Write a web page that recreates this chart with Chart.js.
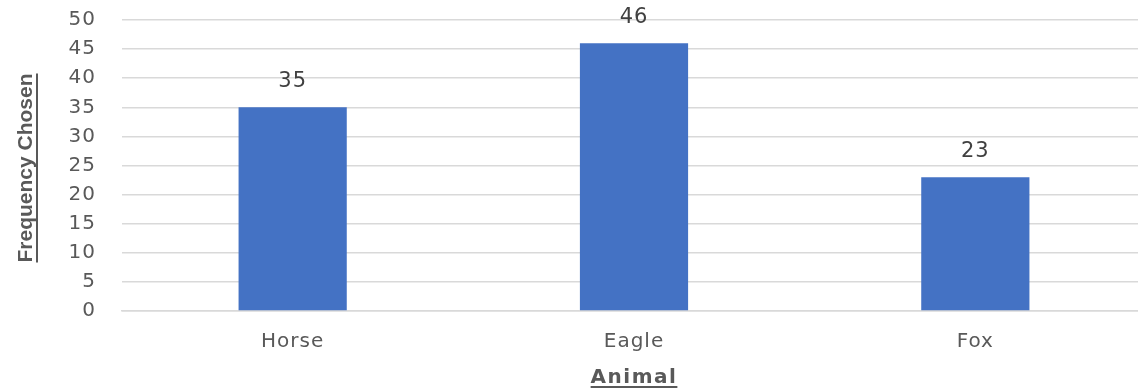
<!DOCTYPE html>
<html>
<head>
<meta charset="utf-8">
<script src="https://cdn.jsdelivr.net/npm/chart.js@4"></script>
<style>
  body { margin: 0; background: #fff; overflow: hidden; }
  #wrap { width: 1146px; height: 391px; }
</style>
</head>
<body>
<div id="wrap"><canvas id="animalChart"></canvas></div>
<script>
const animals = ['Horse', 'Eagle', 'Fox'];
const timesChosen = [35, 46, 23];
const yTicks = [0, 5, 10, 15, 20, 25, 30, 35, 40, 45, 50];

const textColor = '#595959';

// titles are underlined, so draw them by hand along with the value labels
const extras = {
    id: 'extras',
    beforeDraw(chart) {
        chart.ctx.letterSpacing = '1px';
    },
    afterDraw(chart) {
        const ctx = chart.ctx;
        const meta = chart.getDatasetMeta(0);

        ctx.save();
        ctx.fillStyle = '#404040';
        ctx.font = '21px "DejaVu Sans"';
        ctx.textAlign = 'center';
        ctx.textBaseline = 'middle';
        meta.data.forEach((bar, i) => {
            ctx.fillText(timesChosen[i], bar.x, bar.y - 26);
        });

        // x title
        ctx.fillStyle = textColor;
        ctx.strokeStyle = textColor;
        ctx.font = 'bold 20px "DejaVu Sans"';
        ctx.letterSpacing = '1.5px';
        ctx.textBaseline = 'alphabetic';
        const xt = 'Animal';
        const xw = ctx.measureText(xt).width;
        ctx.fillText(xt, 634, 383);
        ctx.lineWidth = 2;
        ctx.beginPath();
        ctx.moveTo(634 - xw / 2, 387);
        ctx.lineTo(634 + xw / 2, 387);
        ctx.stroke();

        // y title
        ctx.translate(32, 168);
        ctx.rotate(-Math.PI / 2);
        ctx.font = 'bold 21px "Liberation Sans"';
        ctx.letterSpacing = '0px';
        const yt = 'Frequency Chosen';
        const yw = ctx.measureText(yt).width;
        ctx.fillText(yt, 0, 0);
        ctx.beginPath();
        ctx.moveTo(-yw / 2, 5);
        ctx.lineTo(yw / 2, 5);
        ctx.stroke();
        ctx.restore();
    }
};

new Chart(document.getElementById('animalChart'), {
    type: 'bar',
    data: {
        labels: animals,
        datasets: [{
            label: 'Frequency Chosen',
            data: timesChosen,
            backgroundColor: '#4472c4',
            categoryPercentage: 1,
            barPercentage: 0.317
        }]
    },
    options: {
        responsive: true,
        maintainAspectRatio: false,
        animation: false,
        layout: { padding: { top: 20, right: 0, left: 0, bottom: 0 } },
        plugins: {
            legend: { display: false },
            tooltip: { enabled: false }
        },
        scales: {
            x: {
                grid: { display: false, drawTicks: false },
                border: { color: '#d9d9d9', width: 1.5 },
                ticks: {
                    color: textColor,
                    font: { family: 'DejaVu Sans', size: 20 },
                    padding: 19,
                    maxRotation: 0
                },
                afterFit(scale) {
                    scale.height = 80;
                    scale.paddingLeft = 0;
                    scale.paddingRight = 0;
                }
            },
            y: {
                min: 0,
                max: 50,
                afterBuildTicks(scale) {
                    scale.ticks = yTicks.map(v => ({ value: v }));
                },
                grid: { color: '#d9d9d9', lineWidth: 1.5, drawTicks: false },
                border: { display: false },
                ticks: {
                    color: textColor,
                    font: { family: 'DejaVu Sans', size: 20 },
                    padding: 26
                },
                afterFit(scale) {
                    scale.width = 122;
                    scale.paddingTop = 0;
                    scale.paddingBottom = 0;
                }
            }
        }
    },
    plugins: [extras]
});
</script>
</body>
</html>
